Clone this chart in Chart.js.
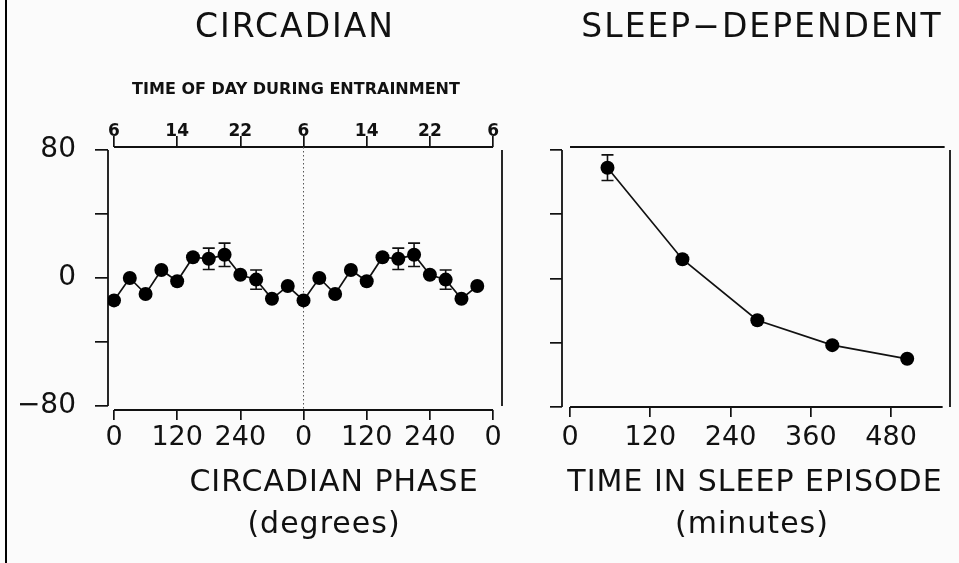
<!DOCTYPE html>
<html>
<head>
<meta charset="utf-8">
<script src="https://cdn.jsdelivr.net/npm/chart.js@4"></script>
<style>
  html, body { margin: 0; padding: 0; background: #fbfbfb; }
  #wrap { position: relative; width: 959px; height: 563px; overflow: hidden; }
  #wrap canvas { position: absolute; left: 0; top: 0; }
  .edge { position: absolute; left: 5px; top: 0; width: 2px; height: 563px; background: #000; }
  .lbl { position: absolute; white-space: nowrap; transform: translateX(-50%); line-height: 1;
         font-family: "DejaVu Sans", sans-serif; color: #111; }
  .title { font-size: 33px; letter-spacing: 2px; }
  .axt { font-size: 30px; letter-spacing: 1px; }
  .small { font-size: 16px; font-weight: bold; }
</style>
</head>
<body>
<div id="wrap">
  <canvas id="circ" width="959" height="563"></canvas>
  <canvas id="sleep" width="959" height="563"></canvas>
  <div class="edge"></div>
  <div class="lbl title" style="left:295px; top:9px;">CIRCADIAN</div>
  <div class="lbl title" style="left:762px; top:9px;">SLEEP−DEPENDENT</div>
  <div class="lbl small" style="left:296px; top:81px;">TIME OF DAY DURING ENTRAINMENT</div>
  <div class="lbl axt" style="left:334px; top:466px;">CIRCADIAN PHASE</div>
  <div class="lbl axt" style="left:324px; top:508px;">(degrees)</div>
  <div class="lbl axt" style="left:755px; top:466px;">TIME IN SLEEP EPISODE</div>
  <div class="lbl axt" style="left:752px; top:508px;">(minutes)</div>
</div>
<script>
// Werte links: zirkadiane Phase (doppelt geplottet, 0-690 Grad)
const phase = [0, 30, 60, 90, 120, 150, 180, 210, 240, 270, 300, 330,
               360, 390, 420, 450, 480, 510, 540, 570, 600, 630, 660, 690];
const circValues = [-14, 0, -10, 5, -2, 13, 12, 14.5, 2, -1, -13, -5,
                    -14, 0, -10, 5, -2, 13, 12, 14.5, 2, -1, -13, -5];
const circErr = [0, 0, 0, 0, 0, 0, 6.7, 7.3, 0, 6, 0, 0,
                 0, 0, 0, 0, 0, 0, 6.7, 7.3, 0, 6, 0, 0];
const phaseTicks = [0, 120, 240, 360, 480, 600, 720];
const phaseLabels = ['0', '120', '240', '0', '120', '240', '0'];
const dayLabels = ['6', '14', '22', '6', '14', '22', '6'];

// Werte rechts: Zeit in der Schlafepisode
const sleepTime = [56, 168, 280, 392, 504];
const sleepValues = [69, 12, -26, -41.5, -50];
const sleepErr = [8, 0, 0, 0, 0];
const minuteTicks = [0, 120, 240, 360, 480];

const yTicks = [-80, -40, 0, 40, 80];
const yLabels = ['−80', '', '0', '', '80'];

const ink = '#111';
const font = (size, weight) => ({ family: 'DejaVu Sans', size: size, weight: weight || 'normal', lineHeight: 1 });

// Achsenlinien wie im Original: nicht geschlossen, nur von Tick zu Tick
const framePlugin = {
  id: 'frame',
  beforeDatasetsDraw(chart, args, opts) {
    const { ctx, chartArea: a, scales } = chart;
    const x = scales.x, y = scales.y;
    const yTop = y.getPixelForValue(yTicks[yTicks.length - 1]);
    const yBot = y.getPixelForValue(yTicks[0]);
    ctx.save();
    ctx.strokeStyle = ink;
    ctx.lineWidth = 1.8;
    ctx.beginPath();
    ctx.moveTo(a.left, yTop); ctx.lineTo(a.left, yBot);
    ctx.moveTo(x.getPixelForValue(opts.bottom[0]), a.bottom);
    ctx.lineTo(x.getPixelForValue(opts.bottom[1]), a.bottom);
    ctx.moveTo(x.getPixelForValue(opts.top[0]), a.top);
    ctx.lineTo(x.getPixelForValue(opts.top[1]), a.top);
    ctx.moveTo(a.right, a.top + 3); ctx.lineTo(a.right, yBot);
    ctx.stroke();

    if (opts.dotted != null) {
      const px = x.getPixelForValue(opts.dotted);
      ctx.setLineDash([1.5, 2.5]);
      ctx.lineWidth = 1;
      ctx.strokeStyle = '#555';
      ctx.beginPath();
      ctx.moveTo(px, a.top); ctx.lineTo(px, a.bottom);
      ctx.stroke();
      ctx.setLineDash([]);
    }

    // Fehlerbalken
    ctx.strokeStyle = ink;
    ctx.lineWidth = 1.6;
    chart.data.datasets.forEach((ds, di) => {
      if (!ds.errors) return;
      const meta = chart.getDatasetMeta(di);
      meta.data.forEach((pt, i) => {
        const e = ds.errors[i];
        if (!e) return;
        const v = ds.data[i].y;
        const hi = y.getPixelForValue(v + e), lo = y.getPixelForValue(v - e);
        ctx.beginPath();
        ctx.moveTo(pt.x, hi); ctx.lineTo(pt.x, lo);
        ctx.moveTo(pt.x - 6, hi); ctx.lineTo(pt.x + 6, hi);
        ctx.moveTo(pt.x - 6, lo); ctx.lineTo(pt.x + 6, lo);
        ctx.stroke();
      });
    });
    ctx.restore();
  }
};

function lineDataset(xs, ys, errs) {
  return {
    data: xs.map((v, i) => ({ x: v, y: ys[i] })),
    errors: errs,
    borderColor: ink,
    borderWidth: 1.7,
    pointRadius: 7,
    pointBackgroundColor: '#000',
    pointBorderColor: '#000',
    pointBorderWidth: 0,
    tension: 0
  };
}

const tickGrid = len => ({ drawOnChartArea: false, drawTicks: true, tickLength: len, color: ink, lineWidth: 1.7 });

const baseOptions = {
  responsive: false,
  animation: false,
  events: [],
  plugins: { legend: { display: false }, tooltip: { enabled: false } }
};

// Linkes Diagramm
new Chart(document.querySelector('#circ'), {
  type: 'line',
  data: { datasets: [lineDataset(phase, circValues, circErr)] },
  plugins: [framePlugin],
  options: {
    ...baseOptions,
    layout: { padding: { left: 0, top: 0, right: 959 - 502, bottom: 0 } },
    plugins: { ...baseOptions.plugins, frame: { top: [0, 720], bottom: [0, 720], dotted: 360 } },
    scales: {
      x: {
        type: 'linear', position: 'bottom', min: -11.4, max: 737,
        afterBuildTicks: s => { s.ticks = phaseTicks.map(v => ({ value: v })); },
        afterFit: s => { s.height = 563 - 410; },
        ticks: { autoSkip: false, maxRotation: 0, padding: 4, color: ink, font: font(27),
                 callback: (v, i) => phaseLabels[i] },
        grid: tickGrid(10),
        border: { display: false }
      },
      xTop: {
        type: 'linear', position: 'top', min: -11.4, max: 737,
        afterBuildTicks: s => { s.ticks = phaseTicks.map(v => ({ value: v })); },
        afterFit: s => { s.height = 147; },
        ticks: { autoSkip: false, maxRotation: 0, padding: -4, color: ink, font: font(17, 'bold'),
                 callback: (v, i) => dayLabels[i] },
        grid: tickGrid(11),
        border: { display: false }
      },
      y: {
        type: 'linear', min: -82.5, max: 81.9,
        afterBuildTicks: s => { s.ticks = yTicks.map(v => ({ value: v })); },
        afterFit: s => { s.width = 108; },
        ticks: { autoSkip: false, padding: 19, color: ink, font: font(28),
                 callback: (v, i) => yLabels[i] },
        grid: tickGrid(13),
        border: { display: false }
      }
    }
  }
});

// Rechtes Diagramm
new Chart(document.querySelector('#sleep'), {
  type: 'line',
  data: { datasets: [lineDataset(sleepTime, sleepValues, sleepErr)] },
  plugins: [framePlugin],
  options: {
    ...baseOptions,
    layout: { padding: { left: 0, top: 147, right: 959 - 950, bottom: 0 } },
    plugins: { ...baseOptions.plugins, frame: { top: [0, 560], bottom: [0, 557] } },
    scales: {
      x: {
        type: 'linear', position: 'bottom', min: -12, max: 568,
        afterBuildTicks: s => { s.ticks = minuteTicks.map(v => ({ value: v })); },
        afterFit: s => { s.height = 563 - 407; },
        ticks: { autoSkip: false, maxRotation: 0, padding: 7, color: ink, font: font(27),
                 callback: v => String(v) },
        grid: tickGrid(10),
        border: { display: false }
      },
      y: {
        type: 'linear', min: -80, max: 81.9,
        afterBuildTicks: s => { s.ticks = yTicks.map(v => ({ value: v })); },
        afterFit: s => { s.width = 562; },
        ticks: { autoSkip: false, padding: 4, color: ink, font: font(27), callback: () => '' },
        grid: tickGrid(12),
        border: { display: false }
      }
    }
  }
});
</script>
</body>
</html>
